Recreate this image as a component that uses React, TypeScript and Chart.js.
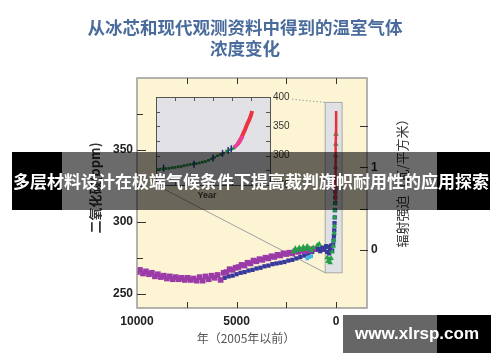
import React, { useEffect, useRef } from 'react';
import { Chart, registerables } from 'chart.js';
Chart.register(...registerables);

const W = 500;
const H = 362;
const AREA = { left: 137, top: 78, right: 367, bottom: 308 };
const INSET_BOX = { left: 150, top: 88, width: 150, height: 115 };
const INSET_AREA = { left: 6, top: 9, right: 120, bottom: 97 };

const titleLines = ['从冰芯和现代观测资料中得到的温室气体', '浓度变化'];
const xTitle = '年（2005年以前）';
const yTitle = '二氧化碳(ppm)';
const y1Title = '辐射强迫（瓦/平方米）';
const insetXTitle = 'Year';
const bannerText = '多层材料设计在极端气候条件下提高裁判旗帜耐用性的应用探索';
const watermarkText = 'www.xlrsp.com';

// main axes
const xTicks = [0, 2500, 5000, 7500, 10000];
const yTicks = [250, 275, 300, 325, 350, 375];
const y1Ticks = [0, 0.5, 1, 1.5];
const zoomBoxYears = [550, -300];
const zoomBoxPpm = [264.5, 383];

// main series (years before 2005, ppm)
const purpleYears = [10000, 9850, 9700, 9550, 9400, 9250, 9100, 8950, 8800, 8650, 8500, 8350, 8200, 8050, 7900, 7750, 7600, 7450, 7300, 7150, 7000, 6850, 6700, 6550, 6400, 6250, 6100, 5950, 5800, 5650, 5500, 5350, 5200, 5050, 4900, 4750, 4600, 4450, 4300, 4150, 4000, 3850, 3700, 3550, 3400, 3250, 3100, 2950, 2800, 2650, 2500, 2350, 2200, 2050, 1900, 1750, 1600, 1450, 1300, 1150];
const purplePpm = [265, 266.5, 264, 265.5, 263.5, 264.5, 262, 263.5, 261.5, 262.5, 260.5, 262, 260, 261.5, 260, 261, 259.5, 261, 259.5, 260.5, 259, 261.5, 259, 262, 260, 262.5, 261, 263, 259.5, 264.5, 265, 267, 266.5, 268, 268.5, 270, 269.5, 271.5, 271, 273, 272.5, 274, 273.5, 275, 274.5, 276, 275.5, 277, 276.5, 278, 277.5, 278.5, 278, 279.5, 279, 280, 279.5, 280.5, 280, 281];

const blueYears = [5600, 5400, 5200, 5000, 4800, 4600, 4400, 4200, 4000, 3800, 3600, 3400, 3200, 3000, 2800, 2600, 2400, 2200, 2000, 1800, 1600, 1400, 1200, 1000, 900, 800, 700, 600, 500, 450, 400, 350, 300, 250, 200, 150, 130, 110, 95, 80, 70, 60, 50, 45, 40, 35];
const bluePpm = [261, 262, 262.5, 263.5, 264.5, 265, 266, 266.5, 267.5, 268, 269, 269.5, 270.5, 271, 271.5, 272, 273, 273.5, 274.5, 275.5, 276.5, 277.5, 279, 280.5, 281, 279.5, 282, 280.5, 283, 279, 282.5, 278, 281, 283.5, 280, 284, 287, 290, 294, 299, 303, 308, 313, 317, 321, 324];

const greenYears = [2150, 2050, 1950, 1850, 1750, 1650, 1550, 1450, 1350, 1250, 1150, 950, 850, 450, 400, 350, 300, 250, 200, 150, 120, 100, 85, 70, 60, 50, 42, 36, 30, 25, 20, 15, 10];
const greenPpm = [279, 281.5, 280, 282, 280.5, 282.5, 281, 283, 281.5, 280, 282, 283.5, 284.5, 275, 272.5, 274, 271.5, 274.5, 279, 283, 287, 292, 297, 303, 308, 313, 318, 324, 330, 338, 346, 354, 361];

const cyanYears = [1450, 1350, 1250];
const cyanPpm = [274.5, 275.5, 276];

const redYears = [47, 40, 35, 30, 25, 20, 15, 10, 5, 0];
const redPpm = [315, 318.5, 321.5, 325.5, 331, 337.5, 345.5, 353.5, 363, 377];

// inset (year AD, ppm)
const insetXTicks = [1800, 1850, 1900, 1950, 2000];
const insetYTicks = [250, 275, 300, 325, 350, 375, 400];
const insetIceYears = [1752, 1760, 1768, 1776, 1784, 1792, 1800, 1808, 1816, 1824, 1832, 1840, 1848, 1856, 1864, 1872, 1880, 1888, 1896, 1904, 1912, 1920, 1928, 1936, 1944, 1950, 1955];
const insetIcePpm = [276.5, 277, 277.5, 278, 278.5, 279.5, 280, 281, 281.5, 283, 284, 285, 286, 286.5, 287.5, 289, 290, 292, 294.5, 297, 300, 302, 304.5, 308, 310, 311.5, 313];
const insetMarkYears = [1770, 1850, 1900, 1925, 1940, 1948];
const insetMarkPpm = [279, 285.5, 296, 304, 309, 312];
const insetPinkYears = [1955, 1960, 1965, 1970, 1975, 1978];
const insetPinkPpm = [314, 316.5, 319.5, 324, 330, 333.5];
const insetRedYears = [1965, 1970, 1975, 1980, 1985, 1990, 1995, 2000, 2003];
const insetRedPpm = [320, 325.5, 331, 338.5, 345.5, 354, 360.5, 369, 376];

const pts = (xs: number[], ys: number[]) => xs.map((x, i) => ({ x, y: ys[i] }));

const LATIN = '"Liberation Sans", Arial, sans-serif';
const CJK = '"Noto Sans CJK SC", sans-serif';

const mainDeco = {
  id: 'mainDeco',
  beforeDraw(chart: any) {
    const { ctx, chartArea: a } = chart;
    ctx.save();
    ctx.fillStyle = '#fdf4d3';
    ctx.fillRect(a.left, a.top, a.right - a.left, a.bottom - a.top);
    ctx.restore();
  },
  beforeDatasetsDraw(chart: any) {
    const { ctx } = chart;
    const x = chart.scales.x;
    const y = chart.scales.y;
    const bx0 = x.getPixelForValue(zoomBoxYears[0]);
    const bx1 = x.getPixelForValue(zoomBoxYears[1]);
    const by0 = y.getPixelForValue(zoomBoxPpm[1]);
    const by1 = y.getPixelForValue(zoomBoxPpm[0]);
    ctx.save();
    ctx.fillStyle = '#dfe1e4';
    ctx.fillRect(bx0, by0, bx1 - bx0, by1 - by0);
    ctx.strokeStyle = '#a8a8a8';
    ctx.lineWidth = 1;
    ctx.strokeRect(bx0, by0, bx1 - bx0, by1 - by0);
    const iL = INSET_BOX.left + INSET_AREA.left;
    const iR = INSET_BOX.left + INSET_AREA.right;
    const iT = INSET_BOX.top + INSET_AREA.top;
    const iB = INSET_BOX.top + INSET_AREA.bottom;
    ctx.strokeStyle = '#a0a0a0';
    ctx.beginPath();
    ctx.moveTo(iL, iB);
    ctx.lineTo(bx0, by1);
    ctx.stroke();
    const sx = iR + 22;
    const sy = iT + ((by0 - iT) * (sx - iR)) / (bx0 - iR);
    ctx.setLineDash([1.5, 2]);
    ctx.beginPath();
    ctx.moveTo(sx, sy);
    ctx.lineTo(bx0, by0);
    ctx.stroke();
    ctx.restore();
  },
  afterDraw(chart: any) {
    const { ctx, chartArea: a } = chart;
    const x = chart.scales.x;
    const y = chart.scales.y;
    const y1 = chart.scales.y1;
    ctx.save();
    ctx.strokeStyle = '#9a9a9a';
    ctx.lineWidth = 1.5;
    ctx.strokeRect(a.left, a.top, a.right - a.left, a.bottom - a.top);
    ctx.strokeStyle = '#333';
    ctx.lineWidth = 1;
    ctx.beginPath();
    x.ticks.forEach((t: any) => {
      const px = Math.round(x.getPixelForValue(t.value)) + 0.5;
      if (px < a.left + 2 || px > a.right - 2) return;
      ctx.moveTo(px, a.bottom);
      ctx.lineTo(px, a.bottom - 6);
      ctx.moveTo(px, a.top);
      ctx.lineTo(px, a.top + 6);
    });
    y.ticks.forEach((t: any) => {
      const py = Math.round(y.getPixelForValue(t.value)) + 0.5;
      const len = t.value % 50 === 0 ? 9 : 6;
      ctx.moveTo(a.left, py);
      ctx.lineTo(a.left + len, py);
    });
    y1.ticks.forEach((t: any) => {
      const py = Math.round(y1.getPixelForValue(t.value)) + 0.5;
      ctx.moveTo(a.right + 1, py);
      ctx.lineTo(a.right - 7, py);
    });
    ctx.stroke();

    // title
    ctx.fillStyle = '#4a6c9c';
    ctx.font = `bold 17.5px ${CJK}`;
    ctx.textAlign = 'center';
    ctx.textBaseline = 'middle';
    ctx.fillText(titleLines[0], 245, 27);
    ctx.fillText(titleLines[1], 245, 48);

    // x title
    ctx.fillStyle = '#555';
    ctx.font = `12px ${CJK}`;
    ctx.fillText(xTitle, 246, 338);

    // y titles (bottom-to-top)
    ctx.fillStyle = '#333';
    ctx.font = `bold 13px ${CJK}`;
    ctx.save();
    ctx.translate(95, 188);
    ctx.rotate(-Math.PI / 2);
    ctx.fillText(yTitle, 0, 0);
    ctx.restore();
    ctx.font = `13px ${CJK}`;
    ctx.save();
    ctx.translate(402, 180);
    ctx.rotate(-Math.PI / 2);
    ctx.fillText(y1Title, 0, 0);
    ctx.restore();
    ctx.restore();
  },
};

const insetDeco = {
  id: 'insetDeco',
  beforeDraw(chart: any) {
    const { ctx, chartArea: a } = chart;
    ctx.save();
    ctx.fillStyle = '#e2e2e6';
    ctx.fillRect(a.left, a.top, a.right - a.left, a.bottom - a.top);
    ctx.restore();
  },
  afterDraw(chart: any) {
    const { ctx, chartArea: a } = chart;
    const x = chart.scales.x;
    const y = chart.scales.y;
    ctx.save();
    ctx.strokeStyle = '#555';
    ctx.lineWidth = 1;
    ctx.strokeRect(a.left + 0.5, a.top + 0.5, a.right - a.left, a.bottom - a.top);
    ctx.beginPath();
    x.ticks.forEach((t: any) => {
      const px = Math.round(x.getPixelForValue(t.value)) + 0.5;
      ctx.moveTo(px, a.top);
      ctx.lineTo(px, a.top + 4);
      ctx.moveTo(px, a.bottom);
      ctx.lineTo(px, a.bottom - 4);
    });
    y.ticks.forEach((t: any) => {
      const py = Math.round(y.getPixelForValue(t.value)) + 0.5;
      if (py < a.top + 2 || py > a.bottom - 2) return;
      ctx.moveTo(a.left, py);
      ctx.lineTo(a.left + 4, py);
      ctx.moveTo(a.right, py);
      ctx.lineTo(a.right - 4, py);
    });
    ctx.stroke();
    ctx.fillStyle = '#444';
    ctx.font = `bold 9px ${LATIN}`;
    ctx.textAlign = 'center';
    ctx.textBaseline = 'middle';
    ctx.fillText(insetXTitle, 57, 108);
    ctx.restore();
  },
};

export default function App() {
  const mainRef = useRef<HTMLCanvasElement>(null);
  const insetRef = useRef<HTMLCanvasElement>(null);

  useEffect(() => {
    const tickFont = { family: LATIN, size: 12, weight: 'bold' as const };
    const main = new Chart(mainRef.current!, {
      type: 'scatter',
      data: {
        datasets: [
          {
            data: pts(redYears, redPpm),
            showLine: true,
            borderColor: '#e8303a',
            borderWidth: 2.5,
            pointRadius: 0,
          },
          {
            data: pts(greenYears, greenPpm),
            pointStyle: 'triangle',
            pointRadius: 3.2,
            backgroundColor: '#22a044',
            borderWidth: 0,
          },
          {
            data: pts(cyanYears, cyanPpm),
            pointStyle: 'rect',
            pointRadius: 2.6,
            backgroundColor: '#3db5e6',
            borderWidth: 0,
          },
          {
            data: pts(purpleYears, purplePpm),
            pointStyle: 'rect',
            pointRadius: 4,
            backgroundColor: '#9b3ba7',
            borderWidth: 0,
          },
          {
            data: pts(blueYears, bluePpm),
            pointStyle: 'rect',
            pointRadius: 3,
            backgroundColor: '#36389c',
            borderWidth: 0,
          },
        ],
      },
      options: {
        responsive: false,
        maintainAspectRatio: false,
        animation: false,
        devicePixelRatio: 1,
        layout: { padding: { top: AREA.top, left: 0, right: 0, bottom: 0 } },
        plugins: { legend: { display: false }, tooltip: { enabled: false }, title: { display: false } },
        scales: {
          x: {
            type: 'linear',
            reverse: true,
            min: -1550,
            max: 10000,
            afterBuildTicks: (s: any) => {
              s.ticks = xTicks.map((v) => ({ value: v }));
            },
            afterFit: (s: any) => {
              s.height = H - AREA.bottom;
            },
            grid: { display: false, drawTicks: false },
            border: { display: false },
            ticks: {
              autoSkip: false,
              maxRotation: 0,
              padding: 6,
              font: tickFont,
              color: '#222',
              callback: (v: any) => (Number(v) % 5000 === 0 ? String(v) : ''),
            },
          },
          y: {
            type: 'linear',
            position: 'left',
            min: 240,
            max: 400,
            afterBuildTicks: (s: any) => {
              s.ticks = yTicks.map((v) => ({ value: v }));
            },
            afterFit: (s: any) => {
              s.width = AREA.left;
            },
            grid: { display: false, drawTicks: false },
            border: { display: false },
            ticks: {
              autoSkip: false,
              padding: 4,
              font: tickFont,
              color: '#222',
              callback: (v: any) => (Number(v) % 50 === 0 ? String(v) : ''),
            },
          },
          y1: {
            type: 'linear',
            position: 'right',
            min: -0.7,
            max: 2.08,
            afterBuildTicks: (s: any) => {
              s.ticks = y1Ticks.map((v) => ({ value: v }));
            },
            afterFit: (s: any) => {
              s.width = W - AREA.right;
            },
            grid: { display: false, drawTicks: false },
            border: { display: false },
            ticks: {
              autoSkip: false,
              padding: 4,
              font: tickFont,
              color: '#222',
              callback: (v: any) => (Number.isInteger(Number(v)) ? String(v) : ''),
            },
          },
        },
      },
      plugins: [mainDeco],
    });

    const inset = new Chart(insetRef.current!, {
      type: 'scatter',
      data: {
        datasets: [
          {
            data: pts(insetPinkYears, insetPinkPpm),
            showLine: true,
            borderColor: '#ea3f97',
            borderWidth: 4,
            pointRadius: 0,
          },
          {
            data: pts(insetRedYears, insetRedPpm),
            showLine: true,
            borderColor: '#ec3441',
            borderWidth: 4,
            pointRadius: 0,
          },
          {
            data: pts(insetMarkYears, insetMarkPpm),
            pointStyle: 'line',
            rotation: 90,
            pointRadius: 3.5,
            borderColor: '#2d2f8c',
            borderWidth: 1.5,
          },
          {
            data: pts(insetIceYears, insetIcePpm),
            pointStyle: 'rect',
            pointRadius: 1.9,
            backgroundColor: '#1e8a3c',
            borderWidth: 0,
          },
        ],
      },
      options: {
        responsive: false,
        maintainAspectRatio: false,
        animation: false,
        devicePixelRatio: 1,
        layout: { padding: { top: INSET_AREA.top, left: INSET_AREA.left, right: 0, bottom: 0 } },
        plugins: { legend: { display: false }, tooltip: { enabled: false }, title: { display: false } },
        scales: {
          x: {
            type: 'linear',
            min: 1750,
            max: 2050,
            afterBuildTicks: (s: any) => {
              s.ticks = insetXTicks.map((v) => ({ value: v }));
            },
            afterFit: (s: any) => {
              s.height = INSET_BOX.height - INSET_AREA.bottom;
            },
            grid: { display: false, drawTicks: false },
            border: { display: false },
            ticks: { display: false },
          },
          y: {
            type: 'linear',
            position: 'right',
            min: 250,
            max: 400,
            afterBuildTicks: (s: any) => {
              s.ticks = insetYTicks.map((v) => ({ value: v }));
            },
            afterFit: (s: any) => {
              s.width = INSET_BOX.width - INSET_AREA.right;
            },
            grid: { display: false, drawTicks: false },
            border: { display: false },
            ticks: {
              autoSkip: false,
              padding: 3,
              font: { family: LATIN, size: 10 },
              color: '#333',
              callback: (v: any) => (Number(v) % 50 === 0 ? String(v) : ''),
            },
          },
        },
      },
      plugins: [insetDeco],
    });

    return () => {
      main.destroy();
      inset.destroy();
    };
  }, []);

  return (
    <div style={{ position: 'absolute', left: 0, top: 0, width: W, height: H, background: '#fff', overflow: 'hidden' }}>
      <canvas ref={mainRef} width={W} height={H} style={{ position: 'absolute', left: 0, top: 0, width: W, height: H }} />
      <canvas
        ref={insetRef}
        width={INSET_BOX.width}
        height={INSET_BOX.height}
        style={{ position: 'absolute', left: INSET_BOX.left, top: INSET_BOX.top, width: INSET_BOX.width, height: INSET_BOX.height }}
      />
      <div
        style={{
          position: 'absolute',
          left: 12,
          top: 152,
          width: 478,
          height: 58,
          background:
            'linear-gradient(to right, #000 0px, #000 50px, rgba(0,0,0,0.58) 50px, rgba(0,0,0,0.58) 425px, #000 425px, #000 478px)',
          color: '#fff',
          fontFamily: CJK,
          fontWeight: 'bold',
          fontSize: '17px',
          lineHeight: '58px',
          textAlign: 'center',
          whiteSpace: 'nowrap',
          overflow: 'hidden',
        }}
      >
        {bannerText}
      </div>
      <div
        style={{
          position: 'absolute',
          left: 343,
          top: 315,
          width: 148,
          height: 38,
          background: 'linear-gradient(to right, rgba(0,0,0,0.6) 0px, rgba(0,0,0,0.6) 94px, #000 94px, #000 148px)',
          color: '#fff',
          fontFamily: LATIN,
          fontWeight: 'bold',
          fontSize: '17px',
          lineHeight: '38px',
          textAlign: 'center',
          whiteSpace: 'nowrap',
        }}
      >
        {watermarkText}
      </div>
    </div>
  );
}
